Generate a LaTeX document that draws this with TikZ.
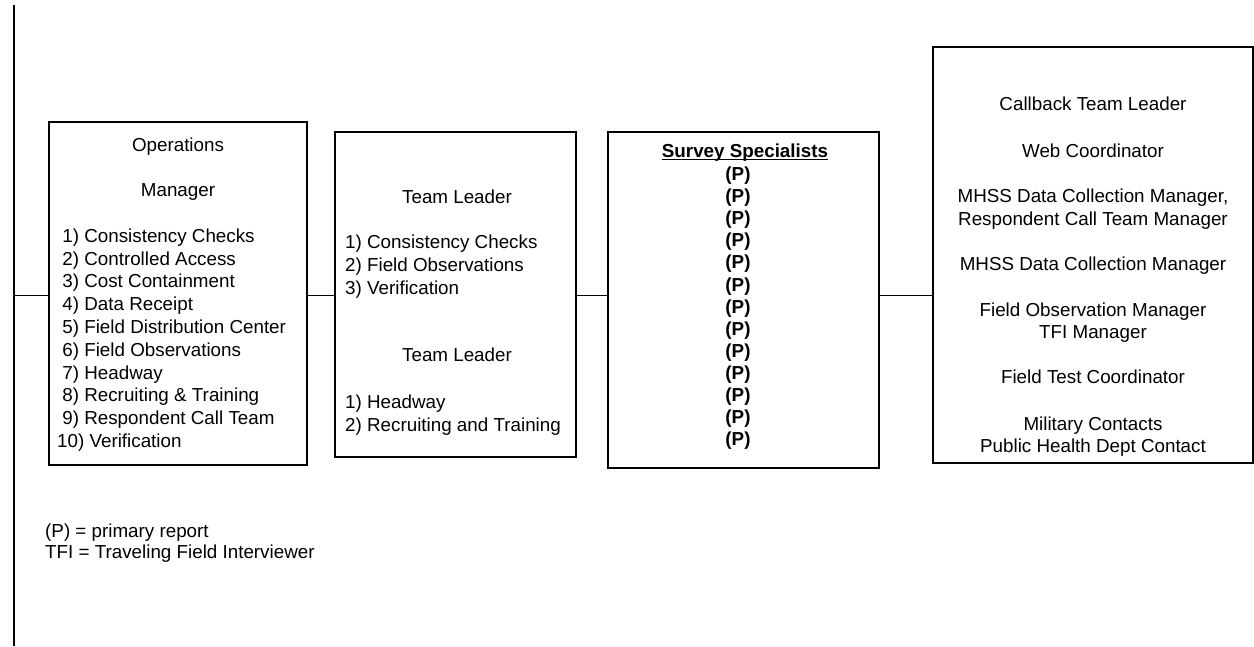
\documentclass[tikz,border=0pt]{standalone}
\usepackage{fontspec}
\setmainfont{Liberation Sans}
\begin{document}
\begin{tikzpicture}[x=1pt,y=-1pt,
  box/.style={draw,line width=1.4pt,rectangle,inner sep=0pt},
  wire/.style={line width=1.4pt},
  txt/.style={inner sep=0pt,font=\fontsize{18.8}{22.8}\selectfont},
  btxt/.style={inner sep=0pt,font=\fontsize{18.8}{22.2}\selectfont\bfseries}]
\useasboundingbox (0,0) rectangle (1254,646);

% spine and connector level
\coordinate (spinetop) at (14,5);
\coordinate (spinebot) at (14,646);
\coordinate (lvl) at (0,295.5);
\draw[wire] (spinetop) -- (spinebot);

% boxes
\node[box,minimum width=258pt,minimum height=343pt] (ops) at (178,293.5) {};
\node[box,minimum width=241pt,minimum height=325pt] (tl)  at (455.5,294.5) {};
\node[box,minimum width=271pt,minimum height=336pt] (ss)  at (743.5,300) {};
\node[box,minimum width=320pt,minimum height=416pt] (oth) at (1093,255) {};

% connectors
\draw[wire] (spinetop |- lvl) -- (ops.west |- lvl);
\draw[wire] (ops.east |- lvl) -- (tl.west |- lvl);
\draw[wire] (tl.east |- lvl) -- (ss.west |- lvl);
\draw[wire] (ss.east |- lvl) -- (oth.west |- lvl);

% operations manager
\node[txt,anchor=base] (opsA) at (178,151.5) {Operations};
\node[txt,anchor=base] (opsB) at (178,196.5) {Manager};
\node[txt,anchor=base west] (opsL) at (57,242.2) {\begin{tabular}[t]{@{}l@{}}
\hspace*{5.2pt}1) Consistency Checks\\
\hspace*{5.2pt}2) Controlled Access\\
\hspace*{5.2pt}3) Cost Containment\\
\hspace*{5.2pt}4) Data Receipt\\
\hspace*{5.2pt}5) Field Distribution Center\\
\hspace*{5.2pt}6) Field Observations\\
\hspace*{5.2pt}7) Headway\\
\hspace*{5.2pt}8) Recruiting \& Training\\
\hspace*{5.2pt}9) Respondent Call Team\\
10) Verification
\end{tabular}};

% team leaders
\node[txt,anchor=base] (tlA) at (457,203.5) {Team Leader};
\node[txt,anchor=base west] (tlAL) at (345,248.5) {\begin{tabular}[t]{@{}l@{}}
1) Consistency Checks\\
2) Field Observations\\
3) Verification
\end{tabular}};
\node[txt,anchor=base] (tlB) at (457,361.5) {Team Leader};
\node[txt,anchor=base west] (tlBL) at (345,408.5) {\begin{tabular}[t]{@{}l@{}}
1) Headway\\
2) Recruiting and Training
\end{tabular}};

% survey specialists, underlined heading
\node[btxt,anchor=base] (ssT) at (745,157) {Survey Specialists};
\draw[line width=1.3pt] ([yshift=-2.2pt]ssT.base west) -- ([yshift=-2.2pt]ssT.base east);
\foreach \k in {0,...,12}
  \node[btxt,anchor=base] (ssP\k) at (738,{180.5+22.1*\k}) {(P)};

% other reports
\foreach \y/\t [count=\i] in {
  110.5/Callback Team Leader,
  157.5/Web Coordinator,
  202.5/{MHSS Data Collection Manager,},
  225.5/Respondent Call Team Manager,
  270.5/MHSS Data Collection Manager,
  316.5/Field Observation Manager,
  338.5/TFI Manager,
  383.5/Field Test Coordinator,
  430.5/Military Contacts,
  452.5/Public Health Dept Contact}
  \node[txt,anchor=base] (oth\i) at (1093,\y) {\t};

% legend
\node[txt,anchor=base west] (keyP) at (45,537.5) {(P) = primary report};
\node[txt,anchor=base west] (keyT) at (45,558.5) {TFI = Traveling Field Interviewer};
\end{tikzpicture}
\end{document}
